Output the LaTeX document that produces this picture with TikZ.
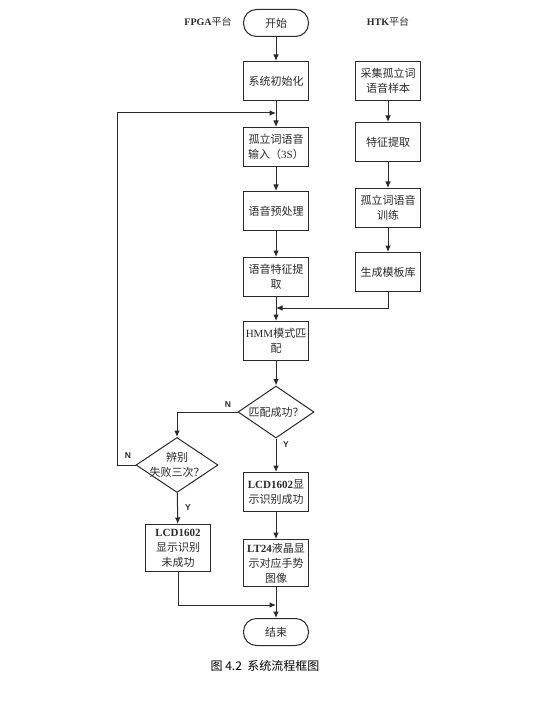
\documentclass[tikz,border=0pt]{standalone}
\usepackage{fontspec}
\setmainfont{Liberation Serif}
\newfontfamily\cjk{Noto Sans CJK SC}
\newfontfamily\lab{Liberation Sans}
\usetikzlibrary{shapes.geometric,arrows.meta}
\definecolor{ink}{HTML}{2A2A2A}
\tikzset{
  box/.style={draw=ink, line width=1pt, minimum width=65pt, minimum height=39pt,
    inner sep=1pt, align=center, text=ink, font=\cjk\fontsize{11}{15}\selectfont},
  tallbox/.style={box, minimum height=47pt},
  term/.style={box, rounded corners=13pt, minimum height=27pt},
  dia/.style={draw=ink, line width=1pt, diamond, inner sep=0pt},
  dtext/.style={align=center, text=ink, font=\cjk\fontsize{11}{15}\selectfont},
  arr/.style={draw=ink, line width=1pt, -{Latex[length=6.5pt,width=5.5pt]}},
  yn/.style={text=ink, font=\lab\bfseries\fontsize{8.5}{9}\selectfont},
  plat/.style={text=ink, font=\fontsize{10}{11}\selectfont\bfseries},
}
\begin{document}
\begin{tikzpicture}[x=1pt,y=-1pt]
\useasboundingbox[fill=white] (0,0) rectangle (532,719);
% titles
\node[plat] (fp) at (208,22) {FPGA{\cjk\mdseries 平台}};
\node[plat] (ht) at (388,22) {HTK{\cjk\mdseries 平台}};
% FPGA column
\node[term] (st) at (276,23) {开始};
\node[box] (init) at (276,81) {系统初始化};
\node[box] (in) at (276,147) {孤立词语音\\输入（{\rmfamily 3S}）};
\node[box] (pre) at (276,211) {语音预处理};
\node[box] (feat) at (276,277) {语音特征提\\取};
\node[box] (hmm) at (276,341) {{\rmfamily HMM}模式匹\\配};
\node[dia, minimum width=76pt, minimum height=52pt] (d1) at (276,412) {};
\node[dtext] (d1t) at (d1.center) {匹配成功？};
\node[box] (ok1) at (276,492) {{\rmfamily\bfseries LCD1602}显\\示识别成功};
\node[tallbox] (ok2) at (276,563) {{\rmfamily\bfseries LT24}液晶显\\示对应手势\\图像};
\node[term] (en) at (276,632) {结束};
\node[dia, minimum width=82pt, minimum height=55pt] (d2) at (177,465) {};
\node[dtext] (d2t) at (d2.center) {辨别\\失败三次？};
\node[tallbox] (fail) at (178,548) {{\rmfamily\bfseries LCD1602}\\显示识别\\未成功};
% HTK column
\node[box] (s1) at (388,81) {采集孤立词\\语音样本};
\node[box] (s2) at (388,142) {特征提取};
\node[box] (s3) at (388,208) {孤立词语音\\训练};
\node[box] (s4) at (388,272) {生成模板库};
% join points
\coordinate (j1) at (276,113);
\coordinate (j2) at (276,308);
\coordinate (j3) at (276,605);
% connectors
\draw[arr] (st) -- (init);
\draw[arr] (init) -- (in);
\draw[arr] (in) -- (pre);
\draw[arr] (pre) -- (feat);
\draw[arr] (feat) -- (hmm);
\draw[arr] (hmm) -- (d1);
\draw[arr] (d1) -- (ok1);
\draw[arr] (ok1) -- (ok2);
\draw[arr] (ok2) -- (en);
\draw[arr] (s1) -- (s2);
\draw[arr] (s2) -- (s3);
\draw[arr] (s3) -- (s4);
\draw[arr] (s4.south) |- (j2);
\draw[arr] (d1.west) -| (d2.north);
\draw[arr] (d2.west) -- ++(-18,0) |- (j1);
\draw[arr] (d2) -- (fail);
\draw[arr] (fail.south) |- (j3);
% labels
\node[yn] (n1) at (228,405) {N};
\node[yn] (y1) at (286,445) {Y};
\node[yn] (n2) at (128,456) {N};
\node[yn] (y2) at (188,508) {Y};
% caption
\node[text=black, font=\cjk\fontsize{12}{14}\selectfont] (cap) at (265,666) {图 4.2\ \ 系统流程框图};
\end{tikzpicture}
\end{document}
